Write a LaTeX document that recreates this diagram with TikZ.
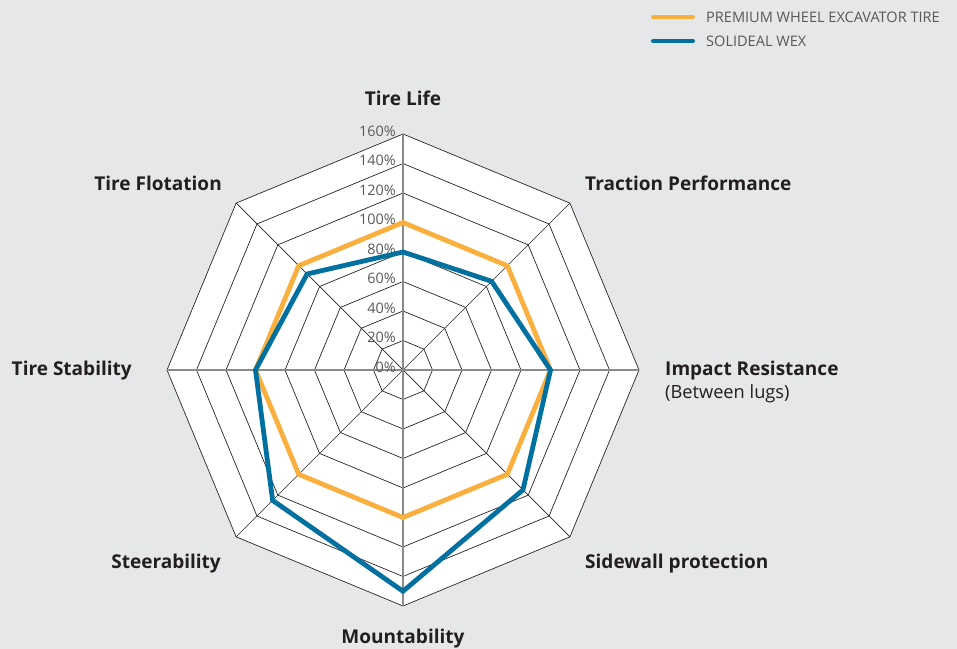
\documentclass[tikz,border=0pt]{standalone}
\usepackage{fontspec}
\setmainfont{Open Sans}
\usetikzlibrary{calc}
\definecolor{bgcol}{HTML}{E6E7E8}
\definecolor{orangeline}{HTML}{FBAF3F}
\definecolor{blueline}{HTML}{0070A0}
\definecolor{darktext}{HTML}{231F20}
\definecolor{graytext}{HTML}{58595B}
\definecolor{spokegray}{HTML}{8A8A8A}
\begin{document}
\begin{tikzpicture}[x=1bp,y=1bp,
  ring/.style={draw=black!85, line width=0.7bp},
  diagspoke/.style={draw=black!85, line width=0.7bp},
  mainspoke/.style={draw=spokegray, line width=1.4bp},
  pct/.style={text=graytext, font=\fontsize{14.5}{16}\selectfont, inner sep=0pt, anchor=east},
  axislabel/.style={text=darktext, font=\fontsize{19.1}{22}\selectfont\bfseries, inner sep=0pt},
  sublabel/.style={text=darktext, font=\fontsize{18.3}{21}\selectfont, inner sep=0pt},
  series/.style={line width=4.8bp, miter limit=10},
  legendline/.style={line width=4bp, line cap=round},
  legendtext/.style={text=graytext, font=\fontsize{14.6}{16}\selectfont, inner sep=0pt, anchor=west}]
\fill[bgcol] (0,0) rectangle (957,649);
\useasboundingbox (0,0) rectangle (957,649);
\coordinate (C) at (403,279);
\def\u{29.5}
% white plot area
\fill[white, shift={(C)}] (90:8*\u) -- (45:8*\u) -- (0:8*\u) -- (-45:8*\u) -- (-90:8*\u) -- (-135:8*\u) -- (180:8*\u) -- (135:8*\u) -- cycle;
% rings
\foreach \k in {1,...,8}{
  \draw[ring, shift={(C)}] (90:\k*\u) -- (45:\k*\u) -- (0:\k*\u) -- (-45:\k*\u) -- (-90:\k*\u) -- (-135:\k*\u) -- (180:\k*\u) -- (135:\k*\u) -- cycle;
}
% spokes
\foreach \a in {45,135,-45,-135}{
  \draw[diagspoke] (C) -- ($(C)+(\a:8*\u)$);
}
\foreach \a in {0,90,180,-90}{
  \draw[mainspoke] (C) -- ($(C)+(\a:8*\u)$);
}
% percent labels
\foreach \k [evaluate=\k as \v using int(20*\k)] in {0,...,8}{
  \node[pct] (p\k) at ($(C)+(-7,\k*\u+3)$) {\v\%};
}
% series
\draw[series, orangeline, shift={(C)}] (90:5*\u) -- (45:5*\u) -- (0:5*\u) -- (-45:5*\u) -- (-90:5*\u) -- (-135:5*\u) -- (180:5*\u) -- (135:5*\u) -- cycle;
\draw[series, blueline, shift={(C)}] (90:4*\u) -- (45:4.25*\u) -- (0:5*\u) -- (-45:5.75*\u) -- (-90:7.5*\u) -- (-135:6.25*\u) -- (180:5*\u) -- (135:4.6*\u) -- cycle;
% axis labels
\node[axislabel] (life) at (403,551) {Tire Life};
\node[axislabel, anchor=west] (traction) at (585,466) {Traction Performance};
\node[axislabel, anchor=west] (impact) at (665,278) {Impact Resistance};
\node[sublabel, anchor=west] (impactsub) at (665,255) {(Between lugs)};
\node[axislabel, anchor=west] (sidewall) at (585,85) {Sidewall protection};
\node[axislabel] (mount) at (403,10) {Mountability};
\node[axislabel, anchor=east] (steer) at (221,85) {Steerability};
\node[axislabel, anchor=east] (stab) at (132,278) {Tire Stability};
\node[axislabel, anchor=east] (flot) at (222,466) {Tire Flotation};
% legend
\coordinate (lo1) at (653,632);
\coordinate (lo2) at (693,632);
\coordinate (lb1) at (653,608);
\coordinate (lb2) at (693,608);
\draw[legendline, orangeline] (lo1) -- (lo2);
\draw[legendline, blueline] (lb1) -- (lb2);
\node[legendtext] (lt1) at (706,632) {PREMIUM WHEEL EXCAVATOR TIRE};
\node[legendtext] (lt2) at (706,608) {SOLIDEAL WEX};
\end{tikzpicture}
\end{document}
